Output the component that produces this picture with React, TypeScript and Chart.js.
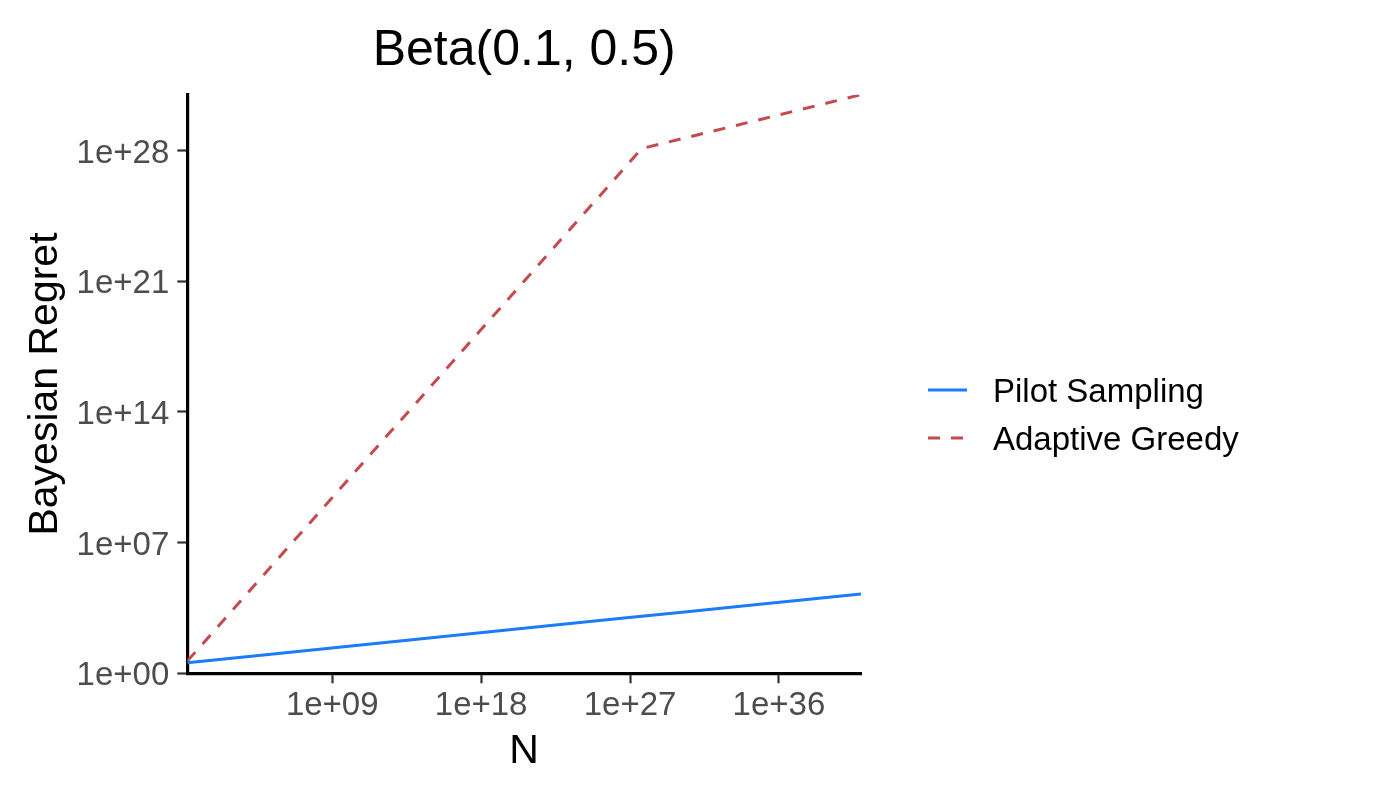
import React, { useEffect, useRef } from "react";
import { Chart, registerables } from "chart.js";

Chart.register(...registerables);

// ---- data ----
const nValues = [1.74, 1e5, 1e10, 1e15, 1e20, 1e25, 5e27, 1e30, 1e35, 9.1e40];
const pilotSampling = [3.7, 10, 28, 80, 228, 646, 1130, 1820, 5150, 17800];
const adaptiveGreedy = [4.5, 2.6e5, 2.6e10, 2.6e15, 2.6e20, 2.6e25, 1.3e28, 4.1e28, 5.0e29, 1.0e31];

const xTickValues = [1e9, 1e18, 1e27, 1e36];
const xTickLabels = ["1e+09", "1e+18", "1e+27", "1e+36"];
const yTickValues = [1, 1e7, 1e14, 1e21, 1e28];
const yTickLabels = ["1e+00", "1e+07", "1e+14", "1e+21", "1e+28"];

const seriesNames = ["Pilot Sampling", "Adaptive Greedy"];
const titleText = "Beta(0.1, 0.5)";
const xTitle = "N";
const yTitle = "Bayesian Regret";

const FONT = "'Liberation Sans', Arial, Helvetica, sans-serif";
const BLUE = "#1B7BF8";
const RED = "#C54A4E";
const DASH = [12, 11];

const textPlugin = {
  id: "ggText",
  afterDraw(chart: any) {
    const ctx = chart.ctx;
    const area = chart.chartArea;
    const cx = (area.left + area.right) / 2;
    const cy = (area.top + area.bottom) / 2;
    ctx.save();
    ctx.fillStyle = "#000";
    // title
    ctx.font = `50px ${FONT}`;
    ctx.textAlign = "center";
    ctx.textBaseline = "alphabetic";
    ctx.fillText(titleText, cx, 65);
    // x title
    ctx.font = `41px ${FONT}`;
    ctx.fillText(xTitle, cx, 763);
    // y title
    ctx.save();
    ctx.translate(57, cy);
    ctx.rotate(-Math.PI / 2);
    ctx.fillText(yTitle, 0, 0);
    ctx.restore();
    // legend
    const items = [
      { y: 390, color: BLUE, dash: [] as number[] },
      { y: 438, color: RED, dash: DASH },
    ];
    items.forEach((it, i) => {
      ctx.save();
      ctx.strokeStyle = it.color;
      ctx.lineWidth = 3;
      ctx.lineCap = "butt";
      ctx.setLineDash(it.dash);
      ctx.beginPath();
      ctx.moveTo(928, it.y);
      ctx.lineTo(967, it.y);
      ctx.stroke();
      ctx.restore();
      ctx.font = `33px ${FONT}`;
      ctx.textAlign = "left";
      ctx.textBaseline = "alphabetic";
      ctx.fillStyle = "#000";
      ctx.fillText(seriesNames[i], 993, it.y + 12);
    });
    ctx.restore();
  },
};

export default function App() {
  const ref = useRef<HTMLCanvasElement | null>(null);
  useEffect(() => {
    document.body.style.margin = "0";
    const canvas = ref.current!;
    const chart = new Chart(canvas, {
      type: "line",
      data: {
        datasets: [
          {
            label: seriesNames[0],
            data: nValues.map((x, i) => ({ x, y: pilotSampling[i] })),
            borderColor: BLUE,
            borderWidth: 3,
            pointRadius: 0,
            tension: 0,
            fill: false,
          },
          {
            label: seriesNames[1],
            data: nValues.map((x, i) => ({ x, y: adaptiveGreedy[i] })),
            borderColor: RED,
            borderWidth: 3,
            borderDash: DASH,
            pointRadius: 0,
            tension: 0,
            fill: false,
          },
        ],
      },
      plugins: [textPlugin],
      options: {
        animation: false,
        responsive: false,
        devicePixelRatio: 1,
        layout: { padding: { left: 67.3, right: 539, top: 94.7, bottom: 26.7 } },
        plugins: { legend: { display: false }, title: { display: false }, tooltip: { enabled: false } },
        scales: {
          x: {
            type: "logarithmic",
            position: "bottom",
            min: 1.74,
            max: 9.1e40,
            afterFit: (s: any) => {
              s.height = 100;
            },
            afterBuildTicks: (s: any) => {
              s.ticks = xTickValues.map((v) => ({ value: v }));
            },
            ticks: {
              autoSkip: false,
              maxRotation: 0,
              padding: 3,
              color: "#4D4D4D",
              font: { family: FONT, size: 33 },
              callback: (v: any) => {
                const i = xTickValues.indexOf(Number(v));
                return i >= 0 ? xTickLabels[i] : "";
              },
            },
            grid: { drawOnChartArea: false, drawTicks: true, tickLength: 10, tickColor: "#333333", tickWidth: 2.2 },
            border: { display: true, color: "#000", width: 3.2 },
          },
          y: {
            type: "logarithmic",
            position: "left",
            min: 1,
            max: 1e31,
            afterFit: (s: any) => {
              s.width = 120;
            },
            afterBuildTicks: (s: any) => {
              s.ticks = yTickValues.map((v) => ({ value: v }));
            },
            ticks: {
              autoSkip: false,
              padding: 8,
              labelOffset: 3,
              color: "#4D4D4D",
              font: { family: FONT, size: 33 },
              callback: (v: any) => {
                const i = yTickValues.indexOf(Number(v));
                return i >= 0 ? yTickLabels[i] : "";
              },
            },
            grid: { drawOnChartArea: false, drawTicks: true, tickLength: 10, tickColor: "#333333", tickWidth: 2.2 },
            border: { display: true, color: "#000", width: 3.2 },
          },
        },
      },
    } as any);
    return () => chart.destroy();
  }, []);
  return (
    <div style={{ position: "absolute", left: 0, top: 0, width: 1400, height: 800, background: "#fff" }}>
      <canvas ref={ref} width={1400} height={800} style={{ width: 1400, height: 800, display: "block" }} />
    </div>
  );
}
